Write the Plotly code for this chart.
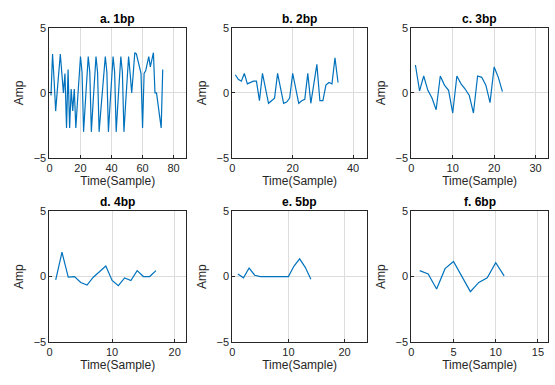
import plotly.graph_objects as go

titles = ["a. 1bp", "b. 2bp", "c. 3bp", "d. 4bp", "e. 5bp", "f. 6bp"]

amp_1bp = [-0.2, 3.0, 1.0, -1.4, 0.1, 1.6, 3.0, 1.5, 0.0, 1.5,
           -2.7, 1.8, -2.7, 0.3, -1.4, 0.3, -2.7, -0.8, 1.0, 2.8,
           1.6, -3.0, -1.0, 0.9, 2.8, 1.6, -3.0, -1.0, 0.9, 2.8,
           1.6, -3.0, -1.5, 0.0, 1.4, 2.8, 1.6, -3.0, -1.0, 0.9,
           2.8, 1.6, -3.0, -1.0, 0.9, 2.8, 1.6, -3.0, -1.0, 0.9,
           2.8, 1.5, 0.0, 1.5, 3.1, 3.0, 2.5, 1.8, 1.5, -2.7,
           1.5, 1.7, 2.2, 2.8, 2.0, 2.5, 3.1, 0.0, 0.0, -0.9,
           -1.8, -2.7, 1.8]
amp_2bp = [1.4, 1.05, 0.9, 1.5, 0.7, 0.8, 0.9, 0.9, -0.6, 1.5,
           0.35, -0.8, -0.6, -0.4, 1.5, 0.35, -0.8, -0.7, -0.4, 1.5,
           0.35, -0.8, -0.6, -0.5, 1.5, -0.8, 0.7, 2.2, -0.6, -0.6,
           0.6, 0.8, 0.7, 2.7, 0.8]
amp_3bp = [2.15, 0.15, 1.3, 0.2, -0.4, -1.3, 1.3, 0.6, 0.2, -1.55,
           1.3, 0.7, 0.3, -0.2, -1.55, 1.3, 1.2, 0.6, -0.75, 2.0,
           1.2, 0.1]
amp_4bp = [-0.25, 1.85, -0.05, 0.0, -0.45, -0.65, -0.05, 0.4, 0.8, -0.3,
           -0.7, -0.1, -0.3, 0.45, 0.0, 0.0, 0.45]
amp_5bp = [0.2, -0.1, 0.65, 0.1, 0.0, 0.0, 0.0, 0.0, 0.0, 0.0,
           0.8, 1.35, 0.7, -0.2]
amp_6bp = [0.45, 0.2, -0.95, 0.6, 1.15, 0.0, -1.15, -0.45, -0.1, 1.05, 0.05]

series = [amp_1bp, amp_2bp, amp_3bp, amp_4bp, amp_5bp, amp_6bp]
x_max = [88, 44.6, 33, 21.8, 24, 16.2]
x_dtick = [20, 20, 10, 10, 10, 5]
y_ticks = [-5, 0, 5]

W, H = 555, 385
col_px = [(46.7, 184.0), (230.5, 366.0), (410.5, 548.0)]
row_px = [(22.7, 156.7), (211.5, 347.0)]

fig = go.Figure()
text_col = "#262626"
for i, (ys, t) in enumerate(zip(series, titles)):
    r, c = divmod(i, 3)
    n = i + 1
    xa = "xaxis" if n == 1 else f"xaxis{n}"
    ya = "yaxis" if n == 1 else f"yaxis{n}"
    xs = list(range(1, len(ys) + 1))
    fig.add_trace(go.Scatter(x=xs, y=ys, mode="lines",
                             line=dict(color="#0072BD", width=1.2),
                             xaxis=f"x{n if n > 1 else ''}",
                             yaxis=f"y{n if n > 1 else ''}",
                             showlegend=False, hoverinfo="skip"))
    x0, x1 = col_px[c]
    y0, y1 = row_px[r]
    common = dict(showline=True, linecolor=text_col, linewidth=1, mirror=True,
                  ticks="inside", ticklen=3, tickcolor=text_col,
                  showgrid=True, gridcolor="#dcdcdc", gridwidth=1,
                  zeroline=False, tickfont=dict(size=11, color=text_col),
                  fixedrange=True)
    fig.layout[xa] = dict(domain=[x0 / W, x1 / W], range=[0, x_max[i]],
                          dtick=x_dtick[i], tick0=0,
                          anchor=f"y{n if n > 1 else ''}",
                          title=dict(text="Time(Sample)", standoff=2,
                                     font=dict(size=12, color=text_col)),
                          **common)
    fig.layout[ya] = dict(domain=[1 - y1 / H, 1 - y0 / H], range=[-5, 5],
                          tickvals=y_ticks,
                          anchor=f"x{n if n > 1 else ''}",
                          title=dict(text="Amp", standoff=7,
                                     font=dict(size=12, color=text_col)),
                          **common)
    fig.add_annotation(text=f"<b>{t}</b>", x=(x0 + x1) / 2 / W,
                       y=1 - y0 / H, xref="paper", yref="paper",
                       xanchor="center", yanchor="bottom", yshift=0,
                       showarrow=False, font=dict(size=12, color="#000000"))

fig.update_layout(width=W, height=H, margin=dict(l=0, r=0, t=0, b=0),
                  paper_bgcolor="white", plot_bgcolor="white",
                  font=dict(family="Liberation Sans, Arial, sans-serif"))
fig.write_html("out.html", config={"displayModeBar": False, "staticPlot": True},
               post_script="document.body.style.margin='0';"
                           "document.body.style.overflow='hidden';")
